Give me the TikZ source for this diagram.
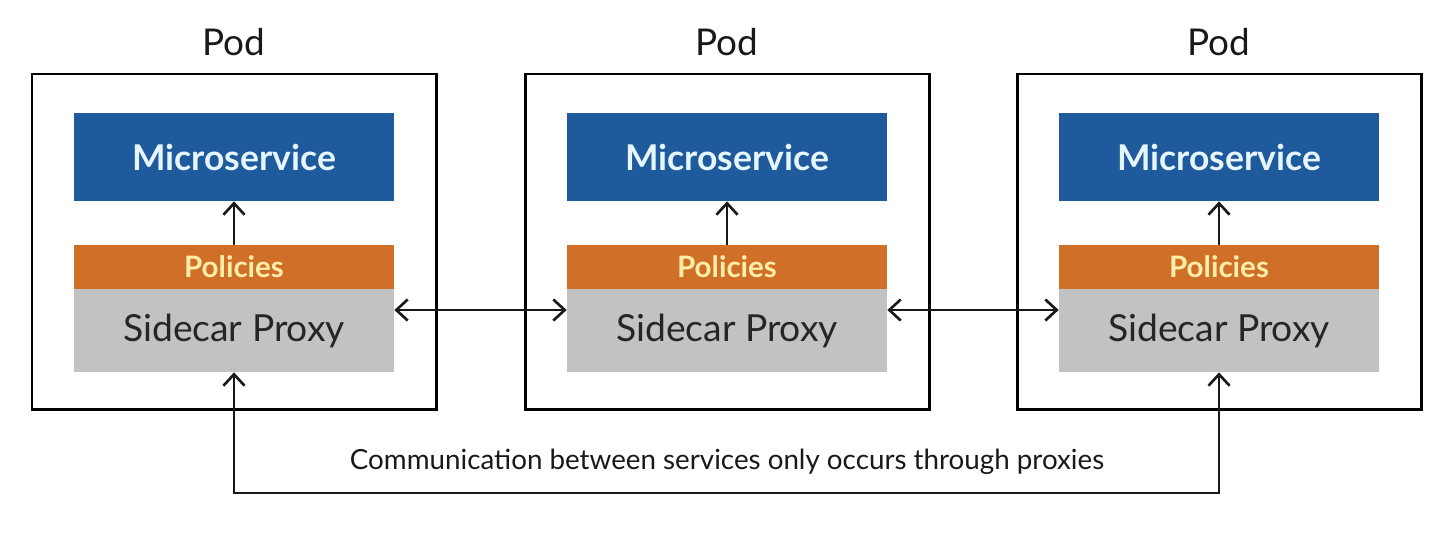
\documentclass[tikz,border=0pt]{standalone}
\usepackage{fontspec}
\setmainfont{Lato}
\usetikzlibrary{arrows.meta}
\definecolor{msblue}{HTML}{1F5A9C}
\definecolor{polorange}{HTML}{D07028}
\definecolor{proxygray}{HTML}{C2C2C2}
\definecolor{mstext}{HTML}{E6F6FF}
\definecolor{poltext}{HTML}{FFEDA8}
\begin{document}
\begin{tikzpicture}[x=0.02cm,y=-0.02cm,
  podbox/.style={draw=black, line width=1.7pt, minimum width=404*0.02cm, minimum height=335*0.02cm, inner sep=0pt},
  msbox/.style={fill=msblue, text=mstext, minimum width=320*0.02cm, minimum height=88*0.02cm, inner sep=0pt, font=\fontsize{20.2}{24}\selectfont\bfseries},
  polbox/.style={fill=polorange, text=poltext, minimum width=320*0.02cm, minimum height=44*0.02cm, inner sep=0pt, font=\fontsize{16.8}{20}\selectfont\bfseries},
  proxbox/.style={fill=proxygray, text=black!85, minimum width=320*0.02cm, minimum height=83*0.02cm, inner sep=0pt, font=\fontsize{21.2}{25}\selectfont},
  podlabel/.style={font=\fontsize{21}{25}\selectfont, text=black!90},
  conn/.style={line width=1.5pt, black!90},
  barb/.tip={Straight Barb[length=6.5pt,width=12pt,line width=1.5pt]},
  tip/.style={-barb},
  tips/.style={barb-barb}
]
\useasboundingbox (0,0) rectangle (1456,542);
\foreach \i/\cx in {1/234,2/727,3/1219}{
  \node[podbox] (pod\i) at (\cx,241.5) {};
  \node[podlabel] (lab\i) at (\cx,42) {Pod};
  \node[msbox] (ms\i) at (\cx,157) {Microservice};
  \node[polbox] (pol\i) at (\cx,267) {Policies};
  \node[proxbox] (prox\i) at (\cx,330.5) {Sidecar Proxy};
  \draw[conn,tip] (pol\i.north) -- (ms\i.south);
}
\draw[conn,tips] (prox1.east |- 0,310) -- (prox2.west |- 0,310);
\draw[conn,tips] (prox2.east |- 0,310) -- (prox3.west |- 0,310);
\coordinate (b1) at (234,493);
\coordinate (b3) at (1219,493);
\draw[conn,tips] (prox1.south) -- (b1) -- (b3) -- (prox3.south);
\node[font=\fontsize{15.8}{19}\selectfont, text=black!90] (note) at (727,462) {Communication between services only occurs through proxies};
\end{tikzpicture}
\end{document}
